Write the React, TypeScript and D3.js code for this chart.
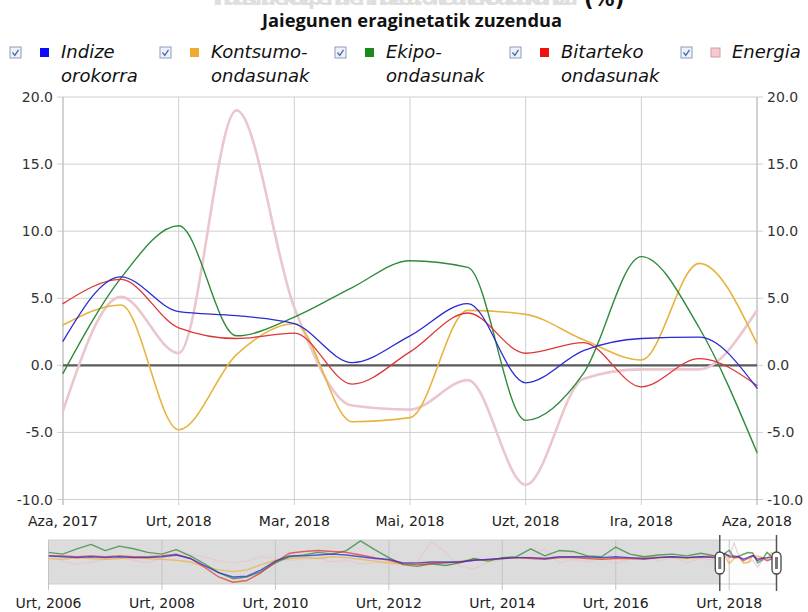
import React from 'react';
import * as d3 from 'd3';

// ---- main chart data (Nov 2017 .. Nov 2018, monthly) ----
const monthTickIdx = [0, 2, 4, 6, 8, 10, 12];
const monthLabels = ['Aza, 2017', 'Urt, 2018', 'Mar, 2018', 'Mai, 2018', 'Uzt, 2018', 'Ira, 2018', 'Aza, 2018'];
const yTicks = [-10, -5, 0, 5, 10, 15, 20];
const yTickLabels = ['-10.0', '-5.0', '0.0', '5.0', '10.0', '15.0', '20.0'];

const indize = [1.8, 6.6, 4.0, 3.7, 3.1, 0.2, 2.2, 4.6, -1.3, 1.1, 2.0, 2.1, -1.7];
const kontsumo = [3.0, 4.5, -4.8, 0.8, 3.1, -4.2, -3.9, 4.1, 3.8, 1.9, 0.4, 7.6, 1.6];
const ekipo = [-0.6, 6.5, 10.4, 2.2, 3.6, 5.8, 7.8, 7.3, -4.1, -0.6, 8.1, 2.8, -6.5];
const bitarteko = [4.6, 6.4, 2.8, 2.0, 2.4, -1.4, 1.0, 3.9, 0.9, 1.7, -1.6, 0.5, -1.5];
const energia = [-3.4, 5.1, 0.9, 19.0, 4.3, -3.0, -3.3, -1.1, -8.9, -1.0, -0.3, -0.3, 4.1];

// ---- navigator history (Jan 2006 .. Oct 2017, every 3 months) ----
const histStep = 3;
const histIndize = [4, 3, 2, 3, 2, 3, 2, 2, 3, 5, 1, -7, -15, -20, -19, -12, -2, 4, 4, 5, 6, 5, 3, 1, 0, -4, -4, -3, -3, -3, -1, 0, 1, 2, 2, 1, 3, 3, 3, 2, 3, 2, 1, 2, 3, 2, 3, 2];
const histKontsumo = [1, 0, 2, 1, 0, 1, 2, 1, 0, -1, -3, -8, -12, -14, -12, -6, -1, 1, 2, 1, 3, 2, 0, -2, -4, -5, -5, -3, -4, -2, 0, -1, 1, 2, 2, 1, 2, 3, 2, 1, 2, 1, 2, 3, 2, 1, 2, 3];
const histEkipo = [8, 6, 12, 17, 10, 15, 12, 8, 6, 11, 4, -5, -15, -22, -20, -14, -4, 3, 5, 8, 6, 10, 21, 11, 2, -6, -8, -5, -7, -4, 1, -2, 2, 3, 12, 4, 10, 9, 4, 3, 14, 6, 3, 5, 6, 4, 7, 4];
const histBitarteko = [4, 4, 3, 4, 3, 4, 3, 3, 4, 6, 1, -9, -20, -26, -24, -15, -3, 7, 9, 10, 9, 8, 5, 2, -1, -5, -6, -5, -4, -3, -1, 0, 1, 2, 1, 0, 2, 2, 1, 0, 1, 1, 0, 2, 3, 2, 3, 4];
const histEnergia = [5, -2, -6, -3, 0, 2, -1, -4, 2, 4, 5, 3, -2, -4, -2, 3, 1, -1, 0, 2, -3, -1, -5, -4, -5, -6, -3, 20, 8, -8, -11, -3, 0, 2, 4, 12, -4, 0, -3, 2, -5, 1, 4, -2, 3, -4, 1, -1];
const mainStartMonth = 142; // Nov 2017 counted from Jan 2006
const navLastMonth = 154;
const navTickMonths = [0, 24, 48, 72, 96, 120, 144];
const navTickLabels = ['Urt, 2006', 'Urt, 2008', 'Urt, 2010', 'Urt, 2012', 'Urt, 2014', 'Urt, 2016', 'Urt, 2018'];

const legendLines = [['Indize', 'orokorra'], ['Kontsumo-', 'ondasunak'], ['Ekipo-', 'ondasunak'], ['Bitarteko', 'ondasunak'], ['Energia']];

const series = [
  { key: 'energia', main: energia, hist: histEnergia, color: '#eac6cd', sw: '#f7c8cf', width: 2.6 },
  { key: 'kontsumo', main: kontsumo, hist: histKontsumo, color: '#e8b440', sw: '#f2a933', width: 1.6 },
  { key: 'ekipo', main: ekipo, hist: histEkipo, color: '#2f8a3b', sw: '#1b8a1b', width: 1.4 },
  { key: 'bitarteko', main: bitarteko, hist: histBitarteko, color: '#e03535', sw: '#ee1111', width: 1.3 },
  { key: 'indize', main: indize, hist: histIndize, color: '#2b2bd2', sw: '#0a0aff', width: 1.3 },
];
const legendOrder = ['indize', 'kontsumo', 'ekipo', 'bitarteko', 'energia'];
const legendX = [10, 160, 335, 510, 681];

const FONT = '"DejaVu Sans", Verdana, sans-serif';

export default function App() {
  const x = d3.scaleLinear().domain([0, 12]).range([63, 757]);
  const y = d3.scaleLinear().domain([-10, 20]).range([499.5, 97]);
  const lineGen = d3.line<number>().x((_, i) => x(i)).y((d) => y(d)).curve(d3.curveMonotoneX);

  const nx = d3.scaleLinear().domain([0, navLastMonth]).range([48.5, 776.5]);
  const ny = d3.scaleLinear().domain([-28, 22]).range([584, 540]);
  const navLine = d3.line<[number, number]>().x((d) => nx(d[0])).y((d) => ny(d[1])).curve(d3.curveLinear);

  const selL = nx(mainStartMonth);
  const selR = nx(navLastMonth);

  const checkbox = (cx: number, cy: number) => (
    <g>
      <rect x={cx} y={cy} width={11} height={11} fill="#eef2fa" stroke="#8d9cb8" strokeWidth={1} />
      <path d={`M${cx + 2.5},${cy + 5.5} L${cx + 4.8},${cy + 8.3} L${cx + 8.5},${cy + 2.8}`} fill="none" stroke="#4a68a8" strokeWidth={1.3} />
    </g>
  );

  return (
    <svg width={808} height={612} style={{ position: 'absolute', left: 0, top: 0, background: '#fff' }} fontFamily={FONT}>
      {/* title (cut off at top) */}
      <text x={578} y={5} textAnchor="end" fontSize={20} fontWeight="bold" fill="#dedede" fontFamily={FONT} textLength={365}>
        Industria-ekoizpenaren indizea. Urte arteko aldakuntza
      </text>
      <text x={584} y={6} fontSize={21} fontWeight="bold" fill="#111" fontFamily={FONT}>(%)</text>
      <text x={412} y={27} textAnchor="middle" fontSize={17} fontWeight="bold" fill="#111" fontFamily='"Open Sans", sans-serif' textLength={300} lengthAdjust="spacingAndGlyphs">
        Jaiegunen eraginetatik zuzendua
      </text>

      {/* legend */}
      {legendOrder.map((k, i) => {
        const s = series.find((d) => d.key === k)!;
        const lx = legendX[i];
        return (
          <g key={k}>
            {checkbox(lx, 47)}
            <rect x={lx + 30} y={48} width={9} height={9} fill={s.sw} stroke={k === 'energia' ? '#c9a0a8' : 'none'} strokeWidth={1} />
            {legendLines[i].map((t, j) => (
              <text key={j} x={lx + 51} y={58 + j * 23.5} fontSize={18} fontStyle="italic" fill="#111">{t}</text>
            ))}
          </g>
        );
      })}

      {/* grid */}
      {yTicks.map((v) => (
        <line key={'gy' + v} x1={57} x2={763} y1={y(v)} y2={y(v)} stroke="#cfcfcf" strokeWidth={1} />
      ))}
      {monthTickIdx.map((m) => (
        <line key={'gx' + m} x1={x(m)} x2={x(m)} y1={97} y2={505} stroke="#cfcfcf" strokeWidth={1} />
      ))}
      <line x1={63} x2={63} y1={97} y2={505} stroke="#bdbdbd" strokeWidth={1} />
      <line x1={757} x2={757} y1={97} y2={505} stroke="#bdbdbd" strokeWidth={1} />
      <line x1={63} x2={757} y1={y(0)} y2={y(0)} stroke="#5a5a5a" strokeWidth={2.2} />

      {/* axis labels */}
      {yTicks.map((v, i) => (
        <g key={'yl' + v}>
          <text x={53} y={y(v) + 5} textAnchor="end" fontSize={14} fill="#333">{yTickLabels[i]}</text>
          <text x={767} y={y(v) + 5} textAnchor="start" fontSize={14} fill="#333">{yTickLabels[i]}</text>
        </g>
      ))}
      {monthTickIdx.map((m, i) => (
        <text key={'xl' + m} x={x(m)} y={526} textAnchor="middle" fontSize={14} fill="#222">{monthLabels[i]}</text>
      ))}

      {/* series */}
      <g fill="none" strokeLinejoin="round" strokeLinecap="round">
        {series.map((s) => (
          <path key={s.key} d={lineGen(s.main) || ''} stroke={s.color} strokeWidth={s.width} />
        ))}
      </g>

      {/* navigator */}
      <defs>
        <clipPath id="navclip">
          <rect x={48.5} y={540} width={728} height={44} />
        </clipPath>
      </defs>
      <rect x={48.5} y={540} width={selL - 48.5} height={44} fill="#dcdcdc" />
      <rect x={selL} y={540} width={selR - selL} height={44} fill="#fdfdfd" />
      <rect x={48.5} y={540} width={728} height={44} fill="none" stroke="#cfcfcf" strokeWidth={1} />
      {navTickMonths.map((m) => (
        <line key={'nt' + m} x1={nx(m)} x2={nx(m)} y1={540} y2={590} stroke="#c4c4c4" strokeWidth={1} />
      ))}
      <g clipPath="url(#navclip)" fill="none" strokeLinejoin="round">
        {series.map((s) => {
          const pts: [number, number][] = s.hist.map((v, i) => [i * histStep, v] as [number, number]);
          s.main.forEach((v, i) => pts.push([mainStartMonth + i, v]));
          return <path key={'n' + s.key} d={navLine(pts) || ''} stroke={s.color} strokeWidth={1.4} opacity={0.75} />;
        })}
      </g>
      {navTickMonths.map((m, i) => (
        <text key={'nl' + m} x={nx(m)} y={608} textAnchor="middle" fontSize={14} fill="#222">{navTickLabels[i]}</text>
      ))}
      {[selL, selR].map((hx, i) => (
        <g key={'h' + i}>
          <line x1={hx} x2={hx} y1={535} y2={591} stroke="#555" strokeWidth={1.5} />
          <rect x={hx - 4.5} y={552} width={9} height={22} rx={4.5} fill="#fff" stroke="#444" strokeWidth={1.3} />
          <rect x={hx - 1.5} y={557} width={3} height={12} fill="#777" />
        </g>
      ))}
    </svg>
  );
}
